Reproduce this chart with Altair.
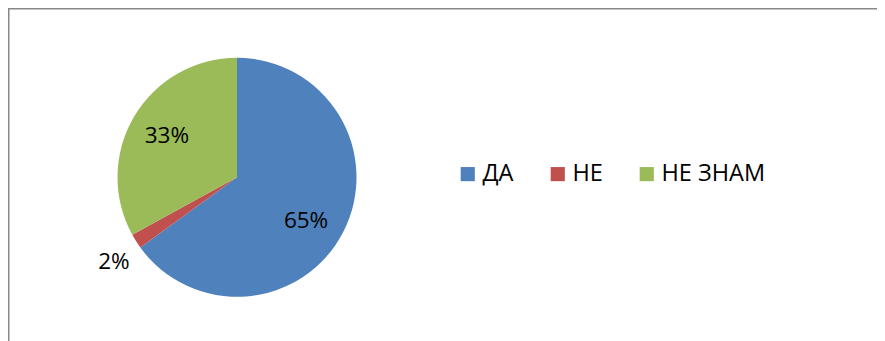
import altair as alt
import pandas as pd

categories = ["ДА", "НЕ", "НЕ ЗНАМ"]
values = [65, 2, 33]
labels = ["65%", "2%", "33%"]
colors = ["#4F81BD", "#C0504D", "#9BBB59"]

df = pd.DataFrame({"cat": categories, "value": values, "label": labels, "idx": list(range(len(categories)))})

FONT = "Open Sans"
CX, CY, R = 229, 169.3, 119.5
W, H = 869, 333

base = alt.Chart(df)
one = alt.Chart(pd.DataFrame({"a": [0]}))

border_top = one.mark_rule(stroke="#888888", strokeWidth=2).encode(
    x=alt.value(0), x2=alt.value(W + 20), y=alt.value(0.5)
)
border_left = one.mark_rule(stroke="#888888", strokeWidth=2).encode(
    x=alt.value(0.5), y=alt.value(0), y2=alt.value(H)
)

pie = base.mark_arc(outerRadius=R).encode(
    theta=alt.Theta("value:Q", stack=True),
    color=alt.Color(
        "cat:N",
        scale=alt.Scale(domain=categories, range=colors),
        sort=categories,
        legend=alt.Legend(
            title=None,
            orient="none",
            direction="horizontal",
            legendX=448,
            legendY=154,
            symbolType="square",
            symbolSize=200,
            symbolStrokeWidth=0,
            labelFont=FONT,
            labelFontSize=23.5,
            labelColor="#000000",
            labelOffset=3,
            labelLimit=400,
            columnPadding=32,
            padding=0,
        ),
    ),
    order=alt.Order("idx:Q"),
    x=alt.value(CX),
    y=alt.value(CY),
)

placement = {"ДА": (82, -4, 6), "НЕ": (150, 3.6, 4.8), "НЕ ЗНАМ": (81.5, 0, 0)}
texts = []
for cat, (rad, ddx, ddy) in placement.items():
    t = base.mark_text(
        radius=rad, dx=ddx, dy=ddy, font=FONT, fontSize=22.5, color="#000000",
        align="center", baseline="middle",
    ).encode(
        theta=alt.Theta("value:Q", stack=True),
        order=alt.Order("idx:Q"),
        text="label:N",
        opacity=alt.condition(alt.datum.cat == cat, alt.value(1), alt.value(0)),
        x=alt.value(CX),
        y=alt.value(CY),
    )
    texts.append(t)

chart = alt.layer(border_top, border_left, pie, *texts).properties(
    width=W, height=H, autosize=alt.AutoSizeParams(type="none"), padding=0
).configure_view(stroke=None).configure(background="white")

chart.save("out.html", embed_options={"renderer": "svg", "actions": False})
